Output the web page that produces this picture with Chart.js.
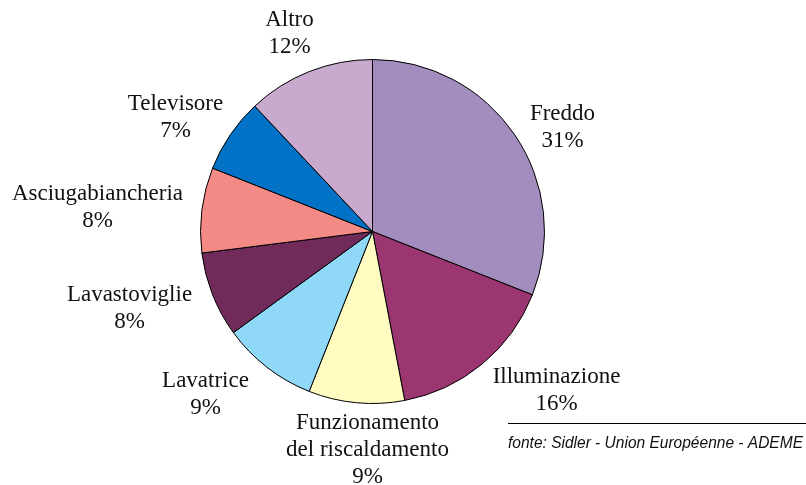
<!DOCTYPE html>
<html>
<head>
<meta charset="utf-8">
<script src="https://cdn.jsdelivr.net/npm/chart.js@4/dist/chart.umd.min.js"></script>
<style>
  html, body { margin: 0; padding: 0; background: #fff; }
  #wrap { width: 806px; height: 485px; }
</style>
</head>
<body>
<div id="wrap"><canvas id="myChart" width="806" height="485"></canvas></div>
<script>
var categories = ['Freddo', 'Illuminazione', 'Funzionamento\ndel riscaldamento', 'Lavatrice',
                  'Lavastoviglie', 'Asciugabiancheria', 'Televisore', 'Altro'];
var shares = [31, 16, 9, 9, 8, 8, 7, 12];
var sliceColors = ['#A28DBE', '#9B3671', '#FFFBC1', '#8FD8F7', '#712B5B', '#F48A86', '#0172C5', '#C9AACF'];
var sourceNote = 'fonte: Sidler - Union Européenne - ADEME';

// where each label block sits, relative to the pie centre (px)
var labelOffsets = [[190, -104], [184, 159], [-5, 218], [-167, 163],
                    [-243, 77], [-275, -24], [-197, -114], [-83, -198]];

var pieLabels = {
  id: 'pieLabels',
  afterDraw: function(chart) {
    var c = chart.ctx;
    var arc = chart.getDatasetMeta(0).data[0];
    var cx = arc.x, cy = arc.y;
    c.save();
    c.fillStyle = '#111';
    c.font = '23px "Liberation Serif", "Times New Roman", serif';
    c.textAlign = 'center';
    c.textBaseline = 'middle';
    var lh = 27;
    categories.forEach(function(name, i) {
      var lines = name.split('\n').concat([shares[i] + '%']);
      var x = cx + labelOffsets[i][0];
      var y0 = cy + labelOffsets[i][1] - (lines.length - 1) * lh / 2;
      lines.forEach(function(t, k) { c.fillText(t, x, y0 + k * lh); });
    });
    // source note
    c.strokeStyle = '#000';
    c.lineWidth = 1;
    c.beginPath();
    c.moveTo(508, 423.5);
    c.lineTo(806, 423.5);
    c.stroke();
    c.font = 'italic 17px "Liberation Sans Narrow", "Liberation Sans", Arial, sans-serif';
    c.textAlign = 'left';
    c.fillText(sourceNote, 508, 443, 295);
    c.restore();
  }
};

var ctx = document.getElementById('myChart').getContext('2d');
var myChart = new Chart(ctx, {
  type: 'pie',
  data: {
    labels: categories,
    datasets: [{
      data: shares,
      backgroundColor: sliceColors,
      borderColor: '#000',
      borderWidth: 1
    }]
  },
  options: {
    responsive: false,
    animation: false,
    layout: { padding: { left: 200, right: 261, top: 59, bottom: 81 } },
    plugins: {
      legend: { display: false },
      tooltip: { enabled: false }
    }
  },
  plugins: [pieLabels]
});
</script>
</body>
</html>
